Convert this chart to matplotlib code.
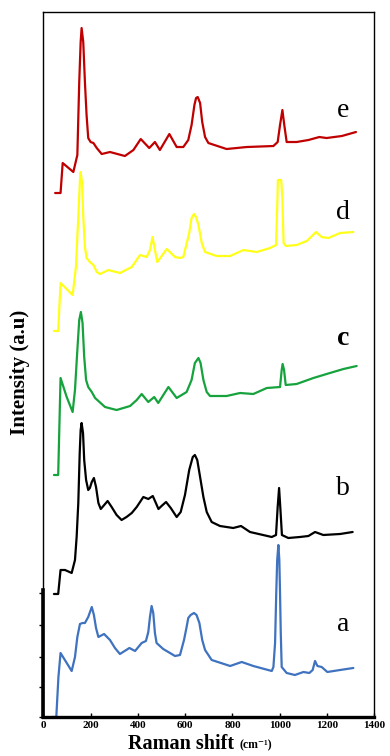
import matplotlib
matplotlib.use("Agg")
import matplotlib.pyplot as plt

# Raman shift (cm^-1) and stacked intensity (a.u.) for each sample
x_a = [37, 55, 64, 73, 120, 134, 144, 155, 166, 176, 190, 205, 214, 223, 233, 257, 282, 303, 324,
       364, 388, 416, 434, 444, 451, 458, 465, 472, 479, 507, 557, 578, 595, 606, 613, 623, 637,
       648, 660, 672, 684, 712, 790, 839, 888, 966, 973, 980, 985, 989, 994, 998, 1001, 1004,
       1008, 1029, 1064, 1100, 1125, 1139, 1149, 1159, 1177, 1201, 1255, 1311]
y_a = [0, 0, 40, 64, 46, 60, 80, 93, 94, 94, 100, 110, 102, 89, 80, 83, 77, 69, 63,
       69, 66, 74, 76, 85, 100, 111, 104, 84, 74, 68, 61, 62, 77, 90, 99, 102, 104,
       102, 94, 77, 67, 57, 51, 55, 51, 46, 50, 74, 124, 157, 172, 157, 124, 85,
       50, 44, 42, 45, 44, 47, 56, 51, 50, 45, 47, 49]

x_b = [45, 63, 73, 92, 120, 134, 141, 148, 154, 158, 162, 168, 173, 181, 190, 197, 205, 214, 223,
       233, 243, 254, 272, 289, 310, 331, 352, 374, 395, 423, 444, 463, 476, 487, 500, 519, 539,
       564, 581, 599, 617, 632, 641, 651, 663, 677, 691, 712, 747, 803, 836, 874, 966, 984, 991,
       997, 1002, 1009, 1036, 1085, 1121, 1149, 1184, 1255, 1308]
y_b = [123, 123, 147, 147, 144, 157, 180, 214, 264, 287, 294, 284, 257, 237, 227, 229, 235, 239, 230,
       214, 208, 211, 216, 210, 202, 197, 200, 204, 210, 220, 218, 221, 214, 208, 211, 215, 209,
       200, 205, 222, 247, 260, 262, 257, 240, 220, 205, 195, 191, 189, 191, 185, 180, 182, 210,
       229, 210, 182, 179, 180, 181, 185, 182, 183, 185]

x_c = [45, 63, 73, 99, 124, 134, 144, 152, 159, 166, 173, 181, 190, 205, 219, 261, 310, 367, 395,
       416, 444, 469, 486, 529, 564, 606, 627, 641, 656, 665, 677, 691, 705, 775, 832, 888, 945,
       1001, 1008, 1012, 1018, 1025, 1071, 1142, 1212, 1269, 1325]
y_c = [242, 242, 339, 320, 305, 327, 367, 397, 405, 394, 360, 337, 330, 325, 319, 310, 307, 311, 317,
       323, 315, 320, 314, 330, 319, 325, 337, 354, 359, 354, 337, 325, 321, 321, 324, 323, 329,
       330, 347, 353, 347, 332, 333, 339, 344, 348, 351]

x_d = [45, 63, 73, 124, 138, 148, 155, 158, 164, 169, 176, 183, 197, 212, 226, 240, 275, 324, 374,
       409, 437, 451, 462, 472, 482, 522, 557, 578, 592, 617, 627, 637, 646, 656, 670, 684, 733,
       790, 846, 902, 959, 984, 990, 992, 1006, 1011, 1016, 1026, 1071, 1114, 1153, 1177, 1205,
       1255, 1311]
y_d = [386, 386, 434, 422, 450, 500, 537, 545, 534, 500, 470, 459, 455, 452, 445, 443, 447, 444, 450,
       462, 460, 467, 480, 467, 455, 468, 460, 459, 460, 484, 499, 503, 500, 492, 474, 465, 461,
       461, 467, 465, 469, 472, 517, 537, 537, 517, 474, 471, 472, 476, 485, 480, 479,
       484, 485]

x_e = [50, 73, 82, 127, 144, 152, 158, 162, 169, 176, 183, 190, 200, 212, 226, 247, 282, 345, 381,
       412, 448, 472, 493, 533, 564, 592, 613, 627, 639, 646, 653, 663, 672, 684, 698, 775, 860,
       973, 991, 1001, 1011, 1019, 1029, 1071, 1121, 1167, 1198, 1262, 1322]
y_e = [524, 524, 554, 545, 562, 635, 675, 689, 675, 635, 602, 579, 575, 574, 569, 563, 565, 561, 567,
       578, 569, 575, 567, 583, 570, 570, 577, 592, 612, 619, 620, 614, 595, 580, 574, 568, 570,
       571, 575, 592, 607, 592, 575, 575, 577, 580, 579, 581, 585]

labels = ["a", "b", "c", "d", "e"]
label_x = [1267, 1267, 1267, 1267, 1267]
label_y = [92, 229, 379, 505, 607]
colors = ["#3F72BF", "#000000", "#16A23C", "#FFFF1A", "#C00000"]

x_ticks = [0, 200, 400, 600, 800, 1000, 1200, 1400]
y_ticks = [0, 30, 60, 92, 124]

plt.rcParams['font.family'] = ['Liberation Serif', 'DejaVu Serif']

fig = plt.figure(figsize=(3.9, 7.56), dpi=100)
ax = fig.add_axes([0.111, 0.0516, 0.849, 0.9325])

series = [(x_a, y_a), (x_b, y_b), (x_c, y_c), (x_d, y_d), (x_e, y_e)]
for (xs, ys), col in zip(series, colors):
    ax.plot(xs, ys, color=col, lw=1.6, solid_joinstyle='round', solid_capstyle='round',
            clip_on=False)

for lab, lx, ly in zip(labels, label_x, label_y):
    ax.text(lx, ly, lab, fontsize=20, ha='center', va='center',
            fontweight='bold' if lab == 'c' else 'normal')

ax.set_xlim(0, 1400)
ax.set_ylim(0, 705)
ax.set_xticks(x_ticks)
ax.set_xticklabels([str(t) for t in x_ticks], fontsize=8, fontweight='bold')
ax.set_yticks(y_ticks)
ax.set_yticklabels([])
ax.tick_params(axis='x', direction='in', length=3, width=1, pad=3)
ax.tick_params(axis='y', direction='out', length=3, width=1)

for s in ['top', 'right', 'left']:
    ax.spines[s].set_linewidth(1.0)
ax.spines['bottom'].set_linewidth(2.4)
ax.plot([0, 0], [0, 127], color='black', lw=2.6, clip_on=False)

fig.text(20 / 390, 1 - 372 / 756, "Intensity (a.u)", fontsize=15, fontweight='bold',
         rotation=90, ha='center', va='center')
fig.text(128 / 390, 1 - 749 / 756, "Raman shift", fontsize=14.5, fontweight='bold',
         ha='left', va='baseline')
fig.text(239 / 390, 1 - 748 / 756, "(cm\u207b\u00b9)", fontsize=8.5, fontweight='bold',
         ha='left', va='baseline')

fig.savefig("out.png", dpi=100)
